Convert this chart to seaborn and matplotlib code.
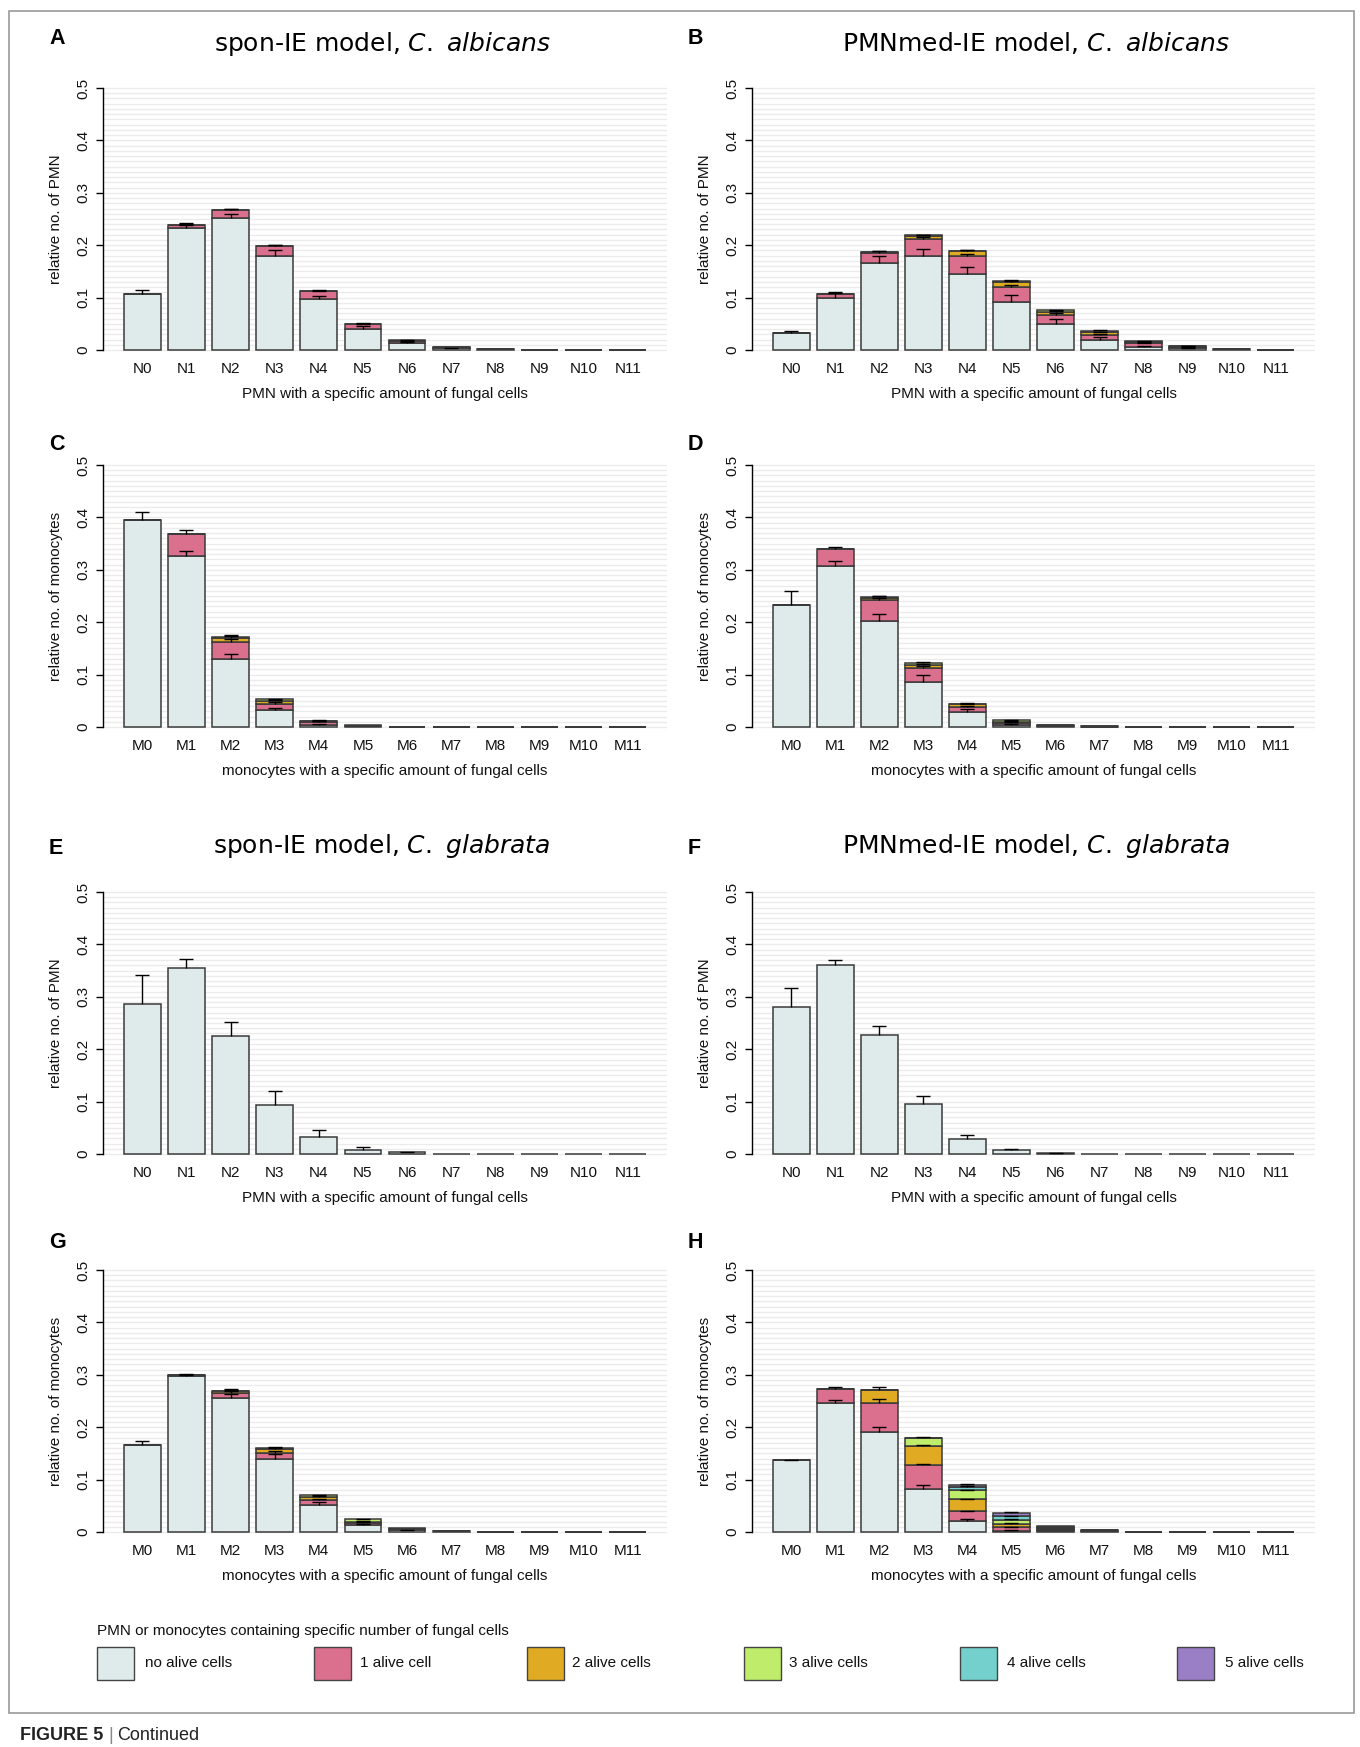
import numpy as np
import pandas as pd
import matplotlib
matplotlib.use("Agg")
import matplotlib.pyplot as plt
import seaborn as sns
from matplotlib.patches import Rectangle

# ---------------- data ----------------
N_cats = ["N%d" % i for i in range(12)]
M_cats = ["M%d" % i for i in range(12)]
seg_labels = ["no alive cells", "1 alive cell", "2 alive cells",
              "3 alive cells", "4 alive cells", "5 alive cells"]
seg_colors = ["#deebea", "#db6f8e", "#e0aa22", "#bfec6a", "#74d0cd", "#9a7ec6"]

# A: spon-IE model, C. albicans, PMN
A_none = [0.106, 0.232, 0.252, 0.180, 0.098, 0.041, 0.013, 0.003, 0.001, 0, 0, 0]
A_one = [0, 0.007, 0.015, 0.018, 0.014, 0.008, 0.004, 0.002, 0.001, 0, 0, 0]
A_two = [0, 0.0005, 0.001, 0.001, 0.001, 0.001, 0.0015, 0.001, 0.0005, 0, 0, 0]
A_sd_none = [0.009, 0.006, 0.007, 0.010, 0.006, 0.005, 0.002, 0.001, 0, 0, 0, 0]
A_sd_one = [0, 0.003, 0.002, 0.002, 0.001, 0.001, 0.001, 0, 0, 0, 0, 0]
A_sd_two = [0, 0.001, 0.001, 0.001, 0.001, 0.001, 0.0005, 0, 0, 0, 0, 0]

# B: PMNmed-IE model, C. albicans, PMN
B_none = [0.032, 0.100, 0.166, 0.180, 0.145, 0.092, 0.050, 0.020, 0.006, 0.003, 0.001, 0]
B_one = [0, 0.006, 0.020, 0.032, 0.035, 0.029, 0.0175, 0.009, 0.007, 0.002, 0.0005, 0]
B_two = [0, 0.0005, 0.001, 0.006, 0.0085, 0.009, 0.0045, 0.005, 0.002, 0.002, 0.0003, 0]
B_three = [0, 0, 0, 0.001, 0.001, 0.002, 0.004, 0.003, 0.0015, 0.001, 0.0002, 0]
B_sd_none = [0.004, 0.011, 0.014, 0.012, 0.013, 0.013, 0.009, 0.004, 0.002, 0.001, 0, 0]
B_sd_one = [0, 0.003, 0.003, 0.004, 0.004, 0.004, 0.003, 0.002, 0.001, 0.001, 0, 0]
B_sd_two = [0, 0, 0.001, 0.002, 0.002, 0.002, 0.002, 0.001, 0.001, 0.0005, 0, 0]
B_sd_three = [0, 0, 0, 0.001, 0.001, 0.001, 0.001, 0.001, 0.0005, 0.0005, 0, 0]

# C: spon-IE model, C. albicans, monocytes
C_none = [0.395, 0.327, 0.129, 0.032, 0.004, 0.001, 0, 0, 0, 0, 0, 0]
C_one = [0, 0.041, 0.034, 0.0126, 0.005, 0.001, 0, 0, 0, 0, 0, 0]
C_two = [0, 0.0005, 0.007, 0.0054, 0.002, 0.0005, 0, 0, 0, 0, 0, 0]
C_three = [0, 0, 0.001, 0.003, 0.001, 0.0005, 0, 0, 0, 0, 0, 0]
C_sd_none = [0.016, 0.008, 0.011, 0.005, 0.001, 0, 0, 0, 0, 0, 0, 0]
C_sd_one = [0, 0.008, 0.005, 0.003, 0.002, 0, 0, 0, 0, 0, 0, 0]
C_sd_two = [0, 0, 0.006, 0.002, 0.001, 0, 0, 0, 0, 0, 0, 0]
C_sd_three = [0, 0, 0.002, 0.001, 0.0005, 0, 0, 0, 0, 0, 0, 0]

# D: PMNmed-IE model, C. albicans, monocytes
D_none = [0.232, 0.308, 0.2015, 0.086, 0.028, 0.004, 0.001, 0.0005, 0, 0, 0, 0]
D_one = [0, 0.031, 0.040, 0.026, 0.010, 0.004, 0.001, 0.0003, 0, 0, 0, 0]
D_two = [0, 0.0007, 0.005, 0.0066, 0.005, 0.002, 0.001, 0.0002, 0, 0, 0, 0]
D_three = [0, 0, 0.0015, 0.003, 0.0016, 0.0028, 0.001, 0, 0, 0, 0, 0]
D_sd_none = [0.028, 0.009, 0.014, 0.014, 0.006, 0.001, 0, 0, 0, 0, 0, 0]
D_sd_one = [0, 0.005, 0.004, 0.004, 0.002, 0.001, 0, 0, 0, 0, 0, 0]
D_sd_two = [0, 0, 0.003, 0.002, 0.001, 0.001, 0, 0, 0, 0, 0, 0]
D_sd_three = [0, 0, 0.002, 0.002, 0.001, 0.001, 0, 0, 0, 0, 0, 0]

# E: spon-IE model, C. glabrata, PMN
E_none = [0.287, 0.3547, 0.2247, 0.094, 0.032, 0.0083, 0.0032, 0.0005, 0.0003, 0, 0, 0]
E_sd_none = [0.0555, 0.018, 0.027, 0.026, 0.013, 0.005, 0.0008, 0, 0, 0, 0, 0]

# F: PMNmed-IE model, C. glabrata, PMN
F_none = [0.2804, 0.360, 0.2273, 0.096, 0.0288, 0.0077, 0.002, 0.0003, 0, 0, 0, 0]
F_sd_none = [0.036, 0.0094, 0.0172, 0.0154, 0.007, 0.0025, 0.0005, 0, 0, 0, 0, 0]

# G: spon-IE model, C. glabrata, monocytes
G_none = [0.1658, 0.298, 0.255, 0.1384, 0.051, 0.0134, 0.003, 0.001, 0, 0, 0, 0]
G_one = [0, 0.002, 0.011, 0.0126, 0.0096, 0.0032, 0.002, 0.0008, 0, 0, 0, 0]
G_two = [0, 0.0004, 0.003, 0.0065, 0.0057, 0.0032, 0.0015, 0.0005, 0, 0, 0, 0]
G_three = [0, 0, 0.0005, 0.0025, 0.0037, 0.0042, 0.0012, 0.0003, 0, 0, 0, 0]
G_sd_none = [0.007, 0.002, 0.008, 0.010, 0.007, 0.002, 0.001, 0, 0, 0, 0, 0]
G_sd_one = [0, 0.002, 0.004, 0.004, 0.003, 0.002, 0, 0, 0, 0, 0, 0]
G_sd_two = [0, 0, 0.003, 0.003, 0.002, 0.001, 0, 0, 0, 0, 0, 0]
G_sd_three = [0, 0, 0.001, 0.002, 0.001, 0.001, 0, 0, 0, 0, 0, 0]

# H: PMNmed-IE model, C. glabrata, monocytes
H_none = [0.1366, 0.2465, 0.190, 0.0813, 0.021, 0.0025, 0.002, 0.001, 0.0003, 0, 0, 0]
H_one = [0, 0.026, 0.0565, 0.0457, 0.019, 0.007, 0.002, 0.001, 0.0003, 0, 0, 0]
H_two = [0, 0, 0.0241, 0.0363, 0.0224, 0.0064, 0.002, 0.001, 0.0002, 0, 0, 0]
H_three = [0, 0, 0, 0.0157, 0.0176, 0.0076, 0.002, 0.0005, 0, 0, 0, 0]
H_four = [0, 0, 0, 0, 0.0065, 0.0064, 0.002, 0.0003, 0, 0, 0, 0]
H_five = [0, 0, 0, 0, 0.0032, 0.0064, 0.002, 0.0002, 0, 0, 0, 0]
H_sd_none = [0.0005, 0.005, 0.010, 0.009, 0.003, 0.001, 0, 0, 0, 0, 0, 0]
H_sd_one = [0, 0.005, 0.007, 0.002, 0.001, 0.001, 0, 0, 0, 0, 0, 0]
H_sd_two = [0, 0, 0.007, 0.003, 0.001, 0.001, 0, 0, 0, 0, 0, 0]
H_sd_three = [0, 0, 0, 0.0027, 0.001, 0.001, 0, 0, 0, 0, 0, 0]
H_sd_four = [0, 0, 0, 0, 0.001, 0.001, 0, 0, 0, 0, 0, 0]
H_sd_five = [0, 0, 0, 0, 0.001, 0.001, 0, 0, 0, 0, 0, 0]

titles = {
    "A": r"spon-IE model, $\mathit{C.\ albicans}$",
    "B": r"PMNmed-IE model, $\mathit{C.\ albicans}$",
    "E": r"spon-IE model, $\mathit{C.\ glabrata}$",
    "F": r"PMNmed-IE model, $\mathit{C.\ glabrata}$",
}
ylab_pmn = "relative no. of PMN"
ylab_mono = "relative no. of monocytes"
xlab_pmn = "PMN with a specific amount of fungal cells"
xlab_mono = "monocytes with a specific amount of fungal cells"
legend_title = "PMN or monocytes containing specific number of fungal cells"

# ---------------- style ----------------
sns.set_theme(style="white")
plt.rcParams["font.family"] = ["Liberation Sans", "DejaVu Sans"]
plt.rcParams["mathtext.fontset"] = "dejavusans"
plt.rcParams["text.color"] = "#111111"
plt.rcParams["axes.labelcolor"] = "#111111"

W, H = 1360, 1747
fig = plt.figure(figsize=(W / 100, H / 100), dpi=100)
fig.patch.set_facecolor("white")


def fx(px):
    return px / W


def fy(py):
    return 1 - py / H


cols = [(103, 667), (752, 1315)]
rows = [(77.5, 360.5), (454.5, 737.5), (881.5, 1164.5), (1259.5, 1542.5)]

BAR_W = 1 / 1.2
EDGE = "#3a3a3a"


def draw_panel(ax, cats, segs, sds, ylabel, xlabel):
    xpos = np.arange(len(cats))
    bottom = np.zeros(len(cats))
    for vals, sd, col in zip(segs, sds, seg_colors):
        vals = np.asarray(vals, float)
        sd = np.asarray(sd, float)
        df = pd.DataFrame({"cat": cats, "val": vals})
        sns.barplot(data=df, x="cat", y="val", order=cats, color=col,
                    saturation=1, width=BAR_W, bottom=bottom.copy(),
                    edgecolor=EDGE, linewidth=1.1, errorbar=None, ax=ax,
                    zorder=2)
        top = bottom + vals
        m = (vals > 0) & (sd > 0)
        if m.any():
            eb = ax.errorbar(xpos[m], top[m], yerr=[np.zeros(m.sum()), sd[m]],
                             fmt="none", ecolor="black", elinewidth=1.0,
                             capsize=4.7, capthick=1.0, zorder=3)
            caps = eb[1]
            if len(caps) >= 1:
                caps[0].set_visible(False)
        bottom = top

    ax.set_xlim(-0.89, 11.89)
    ax.set_ylim(-0.02, 0.52)
    for s in ["top", "right", "bottom"]:
        ax.spines[s].set_visible(False)
    ax.spines["left"].set_bounds(0, 0.5)
    ax.spines["left"].set_color("black")
    ax.spines["left"].set_linewidth(1.0)
    ax.set_yticks([0, 0.1, 0.2, 0.3, 0.4, 0.5])
    ax.set_yticklabels(["0", "0.1", "0.2", "0.3", "0.4", "0.5"])
    ax.set_yticks(np.arange(0, 0.5001, 0.01), minor=True)
    ax.tick_params(axis="y", which="major", left=True, length=5, width=1,
                   color="black", pad=3.8, labelsize=11, labelrotation=90,
                   labelcolor="#111111")
    ax.tick_params(axis="y", which="minor", left=False, length=0)
    for lab in ax.get_yticklabels():
        lab.set_va("center")
    ax.grid(True, which="both", axis="y", color="#ebebeb", linewidth=1.0)
    ax.grid(False, axis="x")
    ax.set_axisbelow(True)
    ax.tick_params(axis="x", length=0, pad=1.3, labelsize=11,
                   labelcolor="#111111")
    ax.set_ylabel(ylabel, fontsize=11, va="center")
    ax.yaxis.set_label_coords(-0.083, 0.5)
    ax.set_xlabel(xlabel, fontsize=11, va="center")
    ax.xaxis.set_label_coords(0.5, -0.118)
    ax.set_facecolor("white")


panels = [
    ("A", 0, 0, N_cats, [A_none, A_one, A_two], [A_sd_none, A_sd_one, A_sd_two], ylab_pmn, xlab_pmn),
    ("B", 0, 1, N_cats, [B_none, B_one, B_two, B_three], [B_sd_none, B_sd_one, B_sd_two, B_sd_three], ylab_pmn, xlab_pmn),
    ("C", 1, 0, M_cats, [C_none, C_one, C_two, C_three], [C_sd_none, C_sd_one, C_sd_two, C_sd_three], ylab_mono, xlab_mono),
    ("D", 1, 1, M_cats, [D_none, D_one, D_two, D_three], [D_sd_none, D_sd_one, D_sd_two, D_sd_three], ylab_mono, xlab_mono),
    ("E", 2, 0, N_cats, [E_none], [E_sd_none], ylab_pmn, xlab_pmn),
    ("F", 2, 1, N_cats, [F_none], [F_sd_none], ylab_pmn, xlab_pmn),
    ("G", 3, 0, M_cats, [G_none, G_one, G_two, G_three], [G_sd_none, G_sd_one, G_sd_two, G_sd_three], ylab_mono, xlab_mono),
    ("H", 3, 1, M_cats, [H_none, H_one, H_two, H_three, H_four, H_five],
     [H_sd_none, H_sd_one, H_sd_two, H_sd_three, H_sd_four, H_sd_five], ylab_mono, xlab_mono),
]

letter_pos = {"A": (49, 44), "B": (688, 44), "C": (49, 450), "D": (688, 450),
              "E": (49, 854), "F": (688, 854), "G": (49, 1248), "H": (688, 1248)}
title_pos = {"A": (382, 51), "B": (1036, 51), "E": (382, 853), "F": (1036, 853)}

for key, r, c, cats, segs, sds, ylab, xlab in panels:
    x0, x1 = cols[c]
    t, b = rows[r]
    ax = fig.add_axes([fx(x0), fy(b), (x1 - x0) / W, (b - t) / H])
    draw_panel(ax, cats, segs, sds, ylab, xlab)
    lx, ly = letter_pos[key]
    fig.text(fx(lx), fy(ly), key, fontsize=15.5, fontweight="bold",
             va="baseline", ha="left", color="black")
    if key in title_pos:
        tx, ty = title_pos[key]
        fig.text(fx(tx), fy(ty), titles[key], fontsize=18, ha="center",
                 va="baseline", family="DejaVu Sans", color="black")

# ---------------- legend ----------------
fig.text(fx(97), fy(1631), legend_title, fontsize=11, va="center", ha="left")
box_x = [97, 314, 527, 744, 960, 1177]
text_x = [145, 360, 572, 789, 1007, 1225]
for bx, tx, lab, col in zip(box_x, text_x, seg_labels, seg_colors):
    fig.patches.append(Rectangle((fx(bx), fy(1680)), 37 / W, 33 / H,
                                 transform=fig.transFigure, facecolor=col,
                                 edgecolor="#444444", linewidth=1.0))
    fig.text(fx(tx), fy(1663), lab, fontsize=11, va="center", ha="left")

# frame
fig.patches.append(Rectangle((fx(9), fy(1713)), (1354 - 9) / W, (1713 - 11) / H,
                             transform=fig.transFigure, fill=False,
                             edgecolor="#9a9a9a", linewidth=1.2))

# caption
fig.text(fx(20), fy(1735), "FIGURE 5", fontsize=13, fontweight="bold",
         va="center", ha="left", color="#222222")
fig.text(fx(108), fy(1735), "|", fontsize=13, va="center",
         ha="left", color="#888888")
fig.text(fx(117), fy(1735), "Continued", fontsize=13, va="center",
         ha="left", color="#222222")

fig.savefig("out.png", dpi=100, facecolor="white")
